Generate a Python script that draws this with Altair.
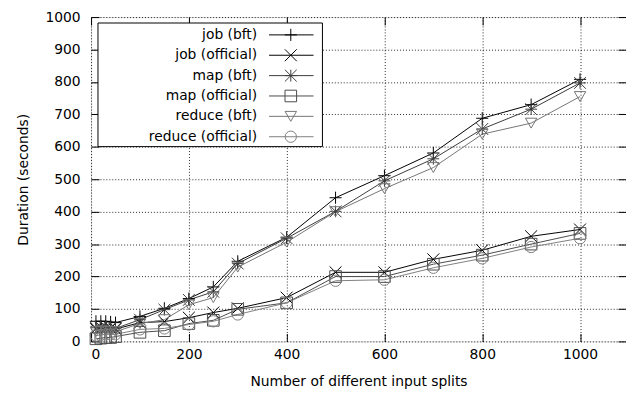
import altair as alt
import pandas as pd

# ---- data ----
splits = [10, 20, 30, 40, 50, 100, 150, 200, 250, 300, 400, 500, 600, 700, 800, 900, 1000]
job_bft = [62, 62, 62, 60, 58, 77, 102, 132, 168, 247, 321, 443, 511, 581, 688, 730, 808]
job_official = [38, 40, 40, 40, 38, 58, 61, 73, 89, 102, 135, 213, 213, 253, 281, 324, 345]
map_bft = [42, 45, 45, 42, 40, 67, 98, 128, 153, 240, 318, 401, 495, 563, 655, 716, 797]
map_official = [8, 10, 12, 12, 15, 28, 33, 55, 65, 99, 119, 200, 200, 238, 266, 300, 333]
reduce_bft = [30, 32, 32, 30, 30, 55, 67, 113, 135, 229, 306, 400, 471, 536, 639, 673, 755]
reduce_official = [18, 20, 22, 22, 22, 37, 40, 52, 62, 83, 119, 187, 190, 227, 256, 291, 318]

series_names = ["job (bft)", "job (official)", "map (bft)", "map (official)",
                "reduce (bft)", "reduce (official)"]
series_values = [job_bft, job_official, map_bft, map_official, reduce_bft, reduce_official]

x_ticks = [0, 200, 400, 600, 800, 1000]
y_ticks = [0, 100, 200, 300, 400, 500, 600, 700, 800, 900, 1000]

# ---- styles ----
colors = ["#000000", "#000000", "#3c3c3c", "#4c4c4c", "#747474", "#808080"]
shapes = ["M-1,0L1,0M0,-1L0,1",
          "M-1,-1L1,1M-1,1L1,-1",
          "M-1,0L1,0M0,-1L0,1M-1,-1L1,1M-1,1L1,-1",
          "square", "triangle-down", "circle"]
sizes = [150, 130, 130, 100, 110, 100]

W, H = 541, 328
FONT = "DejaVu Sans"
FS = 14

rows = []
for name, vals in zip(series_names, series_values):
    for xv, yv in zip(splits, vals):
        rows.append({"x": xv, "value": yv, "series": name})
df = pd.DataFrame(rows)

xscale = alt.Scale(domain=[0, 1094], nice=False, zero=False)
yscale = alt.Scale(domain=[0, 1000], nice=False)
color = alt.Color("series:N", scale=alt.Scale(domain=series_names, range=colors), legend=None)
shape = alt.Shape("series:N", scale=alt.Scale(domain=series_names, range=shapes), legend=None)
size = alt.Size("series:N", scale=alt.Scale(domain=series_names, range=sizes), legend=None)

tick_common = dict(labels=False, domain=False, grid=False, ticks=True, tickSize=8,
                   tickColor="#000000", tickWidth=1, title="")

main_x_axis = alt.Axis(values=x_ticks, format="d", grid=True, gridColor="#000000",
                       gridDash=[1, 2], gridOpacity=0.85, ticks=False, domain=False,
                       labelFont=FONT, labelFontSize=FS, labelColor="#000000",
                       labelPadding=6, title="Number of different input splits",
                       titleFont=FONT, titleFontSize=FS, titleFontWeight="normal",
                       titleColor="#000000", titlePadding=14)
main_y_axis = alt.Axis(values=y_ticks, format="d", grid=True, gridColor="#000000",
                       gridDash=[1, 2], gridOpacity=0.85, ticks=False, domain=False,
                       labelFont=FONT, labelFontSize=FS, labelColor="#000000",
                       labelPadding=11, title="Duration (seconds)", titleFont=FONT,
                       titleFontSize=FS, titleFontWeight="normal", titleColor="#000000",
                       titlePadding=15)

base = alt.Chart(df)

lines = base.mark_line(strokeWidth=1).encode(
    x=alt.X("x:Q", scale=xscale, axis=main_x_axis),
    y=alt.Y("value:Q", scale=yscale, axis=main_y_axis),
    color=color,
    detail="series:N",
    order="x:Q",
)

points = base.mark_point(filled=False, strokeWidth=1, opacity=1).encode(
    x=alt.X("x:Q", scale=xscale,
            axis=alt.Axis(orient="top", offset=-H, values=x_ticks, **tick_common)),
    y=alt.Y("value:Q", scale=yscale,
            axis=alt.Axis(orient="right", offset=-W, values=y_ticks, **tick_common)),
    color=color,
    shape=shape,
    size=size,
)

mirror = base.mark_line(opacity=0).encode(
    x=alt.X("x:Q", scale=xscale,
            axis=alt.Axis(orient="bottom", offset=-H, values=x_ticks, **tick_common)),
    y=alt.Y("value:Q", scale=yscale,
            axis=alt.Axis(orient="left", offset=-W, values=y_ticks, **tick_common)),
    detail="series:N",
)

# ---- gnuplot-style key (layout constants, in plot pixels) ----
key_rows = pd.DataFrame({"series": series_names})
key_rows["ly"] = [18 + 20.6 * i for i in range(len(series_names))]

key_box = alt.Chart(pd.DataFrame({"k": [0]})).mark_rect(
    fill="#ffffff", stroke="#000000", strokeWidth=1
).encode(x=alt.value(7), x2=alt.value(234), y=alt.value(6), y2=alt.value(131))

key_text = alt.Chart(key_rows).mark_text(
    align="right", baseline="middle", font=FONT, fontSize=FS, color="#000000"
).encode(x=alt.value(168), y=alt.Y("ly:Q", scale=None), text="series:N")

key_line = alt.Chart(key_rows).mark_rule(strokeWidth=1).encode(
    x=alt.value(180), x2=alt.value(225), y=alt.Y("ly:Q", scale=None), color=color
)

key_point = alt.Chart(key_rows).mark_point(filled=False, strokeWidth=1, opacity=1).encode(
    x=alt.value(202), y=alt.Y("ly:Q", scale=None), color=color, shape=shape, size=size
)

chart = alt.layer(
    lines, points, mirror, key_box, key_line, key_point, key_text
).resolve_axis(
    x="independent", y="independent"
).properties(
    width=W, height=H,
    autosize=alt.AutoSizeParams(type="none"),
    padding={"left": 84, "top": 7, "right": 0, "bottom": 50},
).configure_view(
    stroke="#000000", strokeWidth=1
).configure(
    background="#ffffff"
)

chart.save("out.html", embed_options={"renderer": "svg", "actions": False})
